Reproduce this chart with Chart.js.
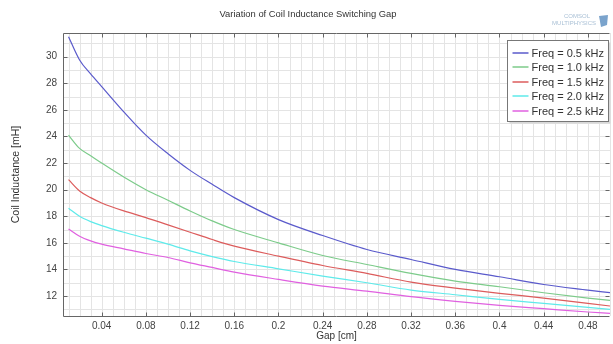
<!DOCTYPE html>
<html>
<head>
<meta charset="utf-8">
<style>
  html, body { margin: 0; padding: 0; background: #fff; }
  #wrap { width: 613px; height: 344px; }
</style>
</head>
<body>
<div id="wrap">
  <canvas id="chart"></canvas>
</div>

<script src="https://cdn.jsdelivr.net/npm/chart.js"></script>

<script>
  // gap [cm] and coil inductance [mH] per switching frequency
  const gap = [0.01, 0.02, 0.03, 0.04, 0.06, 0.08, 0.10, 0.12, 0.14, 0.16, 0.20, 0.24, 0.28, 0.32, 0.36, 0.40, 0.44, 0.48, 0.50];
  const freq05 = [31.5, 29.75, 28.7, 27.75, 25.85, 24.1, 22.7, 21.45, 20.4, 19.4, 17.75, 16.55, 15.5, 14.75, 14.0, 13.45, 12.87, 12.45, 12.25];
  const freq10 = [24.1, 23.1, 22.55, 22.0, 20.95, 20.0, 19.2, 18.4, 17.65, 17.0, 16.0, 15.05, 14.37, 13.7, 13.12, 12.7, 12.25, 11.85, 11.67];
  const freq15 = [20.75, 19.9, 19.4, 19.0, 18.4, 17.9, 17.35, 16.8, 16.25, 15.75, 15.0, 14.3, 13.7, 13.05, 12.6, 12.2, 11.85, 11.45, 11.25];
  const freq20 = [18.6, 18.0, 17.6, 17.3, 16.8, 16.35, 15.9, 15.4, 14.97, 14.6, 14.05, 13.5, 13.0, 12.45, 12.1, 11.75, 11.45, 11.15, 11.0];
  const freq25 = [17.05, 16.5, 16.15, 15.9, 15.55, 15.2, 14.9, 14.5, 14.15, 13.8, 13.25, 12.75, 12.37, 11.95, 11.6, 11.3, 11.05, 10.8, 10.7];

  const labels = ['Freq = 0.5 kHz', 'Freq = 1.0 kHz', 'Freq = 1.5 kHz', 'Freq = 2.0 kHz', 'Freq = 2.5 kHz'];
  const colors = ['#5a5acb', '#7ccb8a', '#dc5c5c', '#5eeaea', '#e060e0'];
  const series = [freq05, freq10, freq15, freq20, freq25];

  const FONT = '"Liberation Sans", Arial, sans-serif';

  // minor grid, frame, inward tick marks, title, logo and legend box
  const frame = {
    id: 'frame',
    beforeDatasetsDraw(chart) {
      const { ctx, chartArea: a, scales: { x, y } } = chart;
      ctx.save();
      ctx.strokeStyle = '#e4e4e4';
      ctx.lineWidth = 1;
      ctx.beginPath();
      for (let i = 1; i <= 50; i++) {
        const px = Math.round(x.getPixelForValue(i / 100)) + 0.5;
        ctx.moveTo(px, a.top);
        ctx.lineTo(px, a.bottom);
      }
      for (let v = 11; v <= 31; v++) {
        const py = Math.round(y.getPixelForValue(v)) + 0.5;
        ctx.moveTo(a.left, py);
        ctx.lineTo(a.right, py);
      }
      ctx.stroke();
      ctx.restore();
    },
    afterDatasetsDraw(chart) {
      const { ctx, chartArea: a, scales: { x, y } } = chart;
      ctx.save();
      ctx.strokeStyle = '#666';
      ctx.lineWidth = 1;
      ctx.beginPath();
      const L = Math.round(a.left) + 0.5, T = Math.round(a.top) + 0.5, B = Math.round(a.bottom) + 0.5, R = Math.round(a.right) - 0.5;
      ctx.moveTo(L, T); ctx.lineTo(R, T);
      ctx.moveTo(L, T); ctx.lineTo(L, B); ctx.lineTo(R, B);
      x.ticks.forEach(t => {
        const px = Math.round(x.getPixelForValue(t.value)) + 0.5;
        ctx.moveTo(px, T); ctx.lineTo(px, T + 4);
        ctx.moveTo(px, B); ctx.lineTo(px, B - 4);
      });
      y.ticks.forEach(t => {
        const py = Math.round(y.getPixelForValue(t.value)) + 0.5;
        ctx.moveTo(L, py); ctx.lineTo(L + 4, py);
        ctx.moveTo(R, py); ctx.lineTo(R - 4, py);
      });
      ctx.stroke();
      ctx.restore();
    },
    afterDraw(chart) {
      const { ctx, chartArea: a } = chart;
      ctx.save();
      // title
      ctx.fillStyle = '#333';
      ctx.font = '9.4px ' + FONT;
      ctx.textAlign = 'center';
      ctx.textBaseline = 'middle';
      ctx.fillText('Variation of Coil Inductance Switching Gap', 308, 14);

      // logo
      ctx.fillStyle = '#a8bfd5';
      ctx.font = '6px ' + FONT;
      ctx.textAlign = 'right';
      ctx.fillText('COMSOL', 590, 16.5);
      ctx.fillText('MULTIPHYSICS', 596, 23);
      ctx.fillStyle = '#7aa3cc';
      ctx.beginPath();
      ctx.moveTo(599, 16); ctx.lineTo(608, 15); ctx.lineTo(607, 25); ctx.lineTo(601, 27); ctx.closePath();
      ctx.fill();

      // legend
      const bw = 101, bh = 81;
      const bx = Math.round(a.right) - bw - 2 + 0.5, by = Math.round(a.top) + 7 + 0.5;
      ctx.fillStyle = '#d8d8d8';
      ctx.fillRect(bx + 2, by + 2, bw, bh);
      ctx.fillStyle = '#fff';
      ctx.fillRect(bx, by, bw, bh);
      ctx.strokeStyle = '#777';
      ctx.lineWidth = 1;
      ctx.strokeRect(bx, by, bw, bh);
      ctx.font = '11px ' + FONT;
      ctx.textAlign = 'left';
      chart.data.datasets.forEach((ds, i) => {
        const cy = Math.round(by + 12 + i * 14.5);
        ctx.strokeStyle = ds.borderColor;
        ctx.lineWidth = 1.5;
        ctx.beginPath();
        ctx.moveTo(bx + 5, cy);
        ctx.lineTo(bx + 21, cy);
        ctx.stroke();
        ctx.fillStyle = '#333';
        ctx.fillText(ds.label, bx + 24, cy + 0.5);
      });
      ctx.restore();
    },
  };

  const ctx = document.getElementById('chart');

  const chart = new Chart(ctx, {
    type: 'line',
    data: {
      datasets: series.map((s, i) => ({
        label: labels[i],
        data: gap.map((g, j) => ({ x: g, y: s[j] })),
        borderColor: colors[i],
        borderWidth: 1.2,
        pointRadius: 0,
        cubicInterpolationMode: 'monotone',
        fill: false,
      })),
    },
    options: {
      responsive: true,
      maintainAspectRatio: false,
      animation: false,
      layout: {
        padding: { top: 33, right: 3, left: 0, bottom: 0 },
      },
      plugins: {
        legend: { display: false },
        tooltip: { enabled: false },
      },
      scales: {
        x: {
          type: 'linear',
          min: 0.005,
          max: 0.5,
          afterFit: (s) => { s.height = 28; },
          grid: { display: false, drawTicks: false },
          border: { display: false },
          ticks: {
            stepSize: 0.04,
            includeBounds: false,
            maxRotation: 0,
            autoSkip: false,
            padding: 4,
            color: '#444',
            font: { family: FONT, size: 10 },
            callback: (v) => String(+v.toFixed(2)),
          },
          title: {
            display: true,
            text: 'Gap [cm]',
            color: '#333',
            font: { family: FONT, size: 10 },
            padding: { top: 0, bottom: 2 },
          },
        },
        y: {
          min: 10.5,
          max: 31.78,
          afterFit: (s) => { s.width = 63; },
          grid: { display: false, drawTicks: false },
          border: { display: false },
          ticks: {
            stepSize: 2,
            includeBounds: false,
            padding: 6,
            color: '#444',
            font: { family: FONT, size: 10 },
          },
          title: {
            display: true,
            text: 'Coil Inductance [mH]',
            color: '#333',
            font: { family: FONT, size: 10.5 },
            padding: { top: 10, bottom: 0 },
          },
        },
      },
    },
    plugins: [frame],
  });
</script>
</body>
</html>
